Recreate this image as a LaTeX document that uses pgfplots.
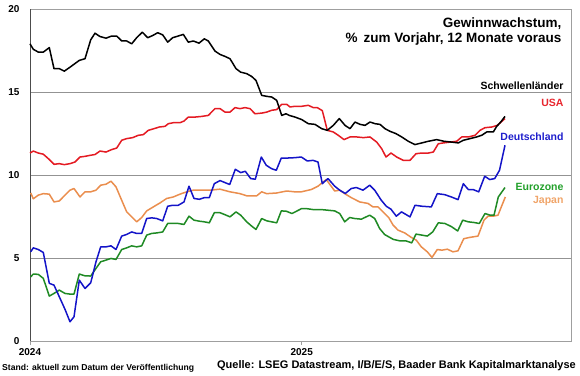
\documentclass[border=0pt]{standalone}
\usepackage{fontspec}
\setmainfont{Liberation Sans}
\usepackage{pgfplots}
\usepackage{pgfplotstable}
\pgfplotsset{compat=1.18}
\definecolor{cEM}{HTML}{000000}
\definecolor{cUS}{HTML}{E41B23}
\definecolor{cDE}{HTML}{1414C8}
\definecolor{cEZ}{HTML}{1F8A24}
\definecolor{cJP}{HTML}{EA8E4E}
\definecolor{lUS}{HTML}{E8262E}
\definecolor{lDE}{HTML}{1E1ECC}
\definecolor{lEZ}{HTML}{22A02A}
\definecolor{lJP}{HTML}{F0A468}

\pgfplotstableread{
x y
0 17.93
3.3 17.6
8.3 17.43
13.3 17.43
19.3 17.7
24 16.43
29.3 16.43
34.3 16.28
40 16.52
49.3 16.93
55 17.03
60.7 18.17
65 18.57
70 18.37
76 18.27
81.7 18.4
86.7 18.4
91.7 18.1
96.7 18.1
101.7 17.93
106.7 18.3
112.3 18.63
117.7 18.3
122.7 18.43
127.7 18.6
132.7 18.47
137.7 18.03
142.7 18.3
148.3 18.4
153.3 18.5
158.3 18.03
163.3 18.1
169 17.97
174.3 18.23
178.3 18.1
185 17.49
190 17.29
195 17.17
200 17.03
206 16.43
210.7 16.22
216.7 16.13
221.7 15.96
226 15.72
231.7 14.82
236.7 14.76
241.7 14.72
246.7 14.52
251.7 13.61
256 13.71
259.3 13.61
265 13.51
271.7 13.36
278.3 13.11
285 13.07
291.7 12.81
297.3 12.71
303.3 13.01
309.3 13.42
315 13.01
320 12.81
325 13.21
330 13.07
335 13.01
340 13.21
345 13.11
350 13.07
355 12.81
360 12.65
366 12.51
371.7 12.31
378.3 12.05
385 11.85
391.7 11.95
398.3 12.05
406.7 12.15
414 12.05
421.7 12.0
428.3 11.95
433.3 12.11
440 12.21
446.7 12.31
451.7 12.41
456.7 12.61
463.3 12.61
466.7 12.95
470.7 13.21
475 13.55
}\EM

\pgfplotstableread{
x y
0 11.34
3.3 11.46
8.3 11.34
13.3 11.27
19.3 10.95
24 10.66
29.3 10.7
34.3 10.64
40 10.7
45 10.8
50 11.1
55 11.14
60 11.2
65 11.25
70 11.46
76 11.4
81.7 11.55
86.7 11.64
91.7 12.11
96.7 12.21
102.7 12.27
108.3 12.41
113.3 12.45
118.3 12.71
124 12.81
129.3 12.91
135 12.95
138.3 13.11
143.3 13.17
150 13.17
154 13.27
158.3 13.51
165 13.51
171.7 13.55
178.3 13.61
185 14.02
190 14.02
195 13.81
200 13.81
205 14.08
210 14.02
215 14.08
220 14.02
225 13.71
231.7 13.75
236.7 13.81
241.7 13.92
246.7 13.96
251.7 14.28
256.7 14.28
260 14.12
265 14.16
271.7 14.16
278.3 14.22
283.3 14.08
287.3 14.08
292.3 13.9
297.3 12.71
303.3 12.61
308.3 12.41
314 12.15
320 12.31
326.7 12.31
333.3 12.27
340 12.31
346.7 12.0
351.7 11.6
356 11.1
361 11.34
366.7 11.1
373.3 10.9
380 10.9
386 11.3
391.7 11.34
398.3 11.34
403.3 11.4
408.3 11.9
413.3 11.95
420 12.0
426.7 12.05
431.7 12.31
438.3 12.31
445 12.41
450 12.71
455 12.87
461.7 12.91
467.3 13.01
475 13.42
}\US

\pgfplotstableread{
x y
0.7 5.38
3.3 5.62
8.3 5.52
13.3 5.34
19.3 3.48
24 3.37
29.3 2.67
35 1.91
40 1.16
44 1.46
49.3 3.67
55 3.17
60.7 3.51
66 4.78
70.7 5.68
76 5.68
81 5.74
86 5.52
91.7 6.33
96.7 6.43
101.7 6.58
106.7 6.49
111.7 6.49
116.7 7.39
121.7 7.43
126.7 7.39
132.7 7.25
137.7 8.13
142.7 8.19
148.3 8.19
154 8.39
159 9.34
164 8.6
169.3 8.55
174.3 8.65
179.3 8.65
184.3 9.49
190 9.68
199.7 9.44
205.3 10.36
210.7 10.16
215.3 10.24
220.7 9.8
225.3 9.76
231.3 11.1
236.3 10.6
241.5 10.4
246.3 10.3
251.3 11.04
258 11.04
264.7 11.06
271.3 11.1
277.3 10.86
283 10.9
288 10.8
292.3 9.49
294 9.59
298 9.8
304.7 9.34
309.7 9.1
315.3 8.9
321.3 9.2
326.3 9.26
333 9.1
339.7 9.4
344.7 9.1
351.3 8.49
356.3 8.13
361 7.95
366.3 7.53
371.5 7.79
380 7.49
385 8.19
392 8.13
401.3 8.09
407.3 8.89
414.7 8.83
421.3 8.69
428 8.53
433.3 9.49
438.3 9.14
443 9.14
448.7 9.0
454.7 9.94
459.7 9.74
464.7 9.8
469.5 10.3
475 11.81
}\DE

\pgfplotstableread{
x y
0.7 3.87
3.3 4.04
8.3 4.02
13.3 3.78
19.3 2.71
24 2.87
29.3 3.07
35 2.87
40 2.83
44 2.83
49.3 4.04
55 3.93
60.7 3.92
66 4.38
70.7 4.78
76 4.88
81 4.98
86 4.92
91.7 5.52
96.7 5.62
101.7 5.74
106.7 5.68
111.7 5.74
116.7 6.39
121.7 6.49
126.7 6.52
132.7 6.58
137.7 7.09
142.7 7.09
148.3 7.09
154 7.03
159 7.53
164 7.29
169.3 7.23
174.3 7.19
179.3 7.13
184.3 7.74
190 7.74
195 7.62
200 7.49
206 7.79
210.7 7.59
216.7 7.19
221.7 6.93
226 6.73
231.7 7.39
236.7 7.25
241.7 7.19
246.7 7.13
251.3 7.85
256.3 7.83
262 7.69
271.3 7.98
277.3 7.98
283 7.93
291.3 7.93
298 7.89
304.7 7.85
309.7 7.69
314.7 7.19
319.7 7.45
324.7 7.39
331.3 7.35
339.7 7.59
344.7 7.39
349.7 6.78
354.7 6.42
363.3 6.13
370 6.04
376 6.04
381.7 5.92
386 6.45
391.7 6.39
397.3 6.33
402.7 6.58
408.3 7.13
415 7.09
421.7 6.89
427.7 6.64
432.7 7.29
438.3 7.19
444 7.15
449.3 7.09
455 7.69
460 7.59
464 7.59
468.3 8.69
475 9.26
}\EZ

\pgfplotstableread{
x y
0.7 8.93
3.3 8.58
8.3 8.8
13.3 8.89
19.3 8.86
24 8.39
29.3 8.45
35 8.8
40 9.1
44 9.2
50 8.69
55 9.0
60.7 9.0
66 9.1
70.7 9.4
76 9.46
81 9.64
86 9.3
91.7 8.49
96.7 7.79
101.7 7.49
106.7 7.19
111.7 7.45
116.7 7.85
123.3 8.09
130 8.33
136.7 8.6
143.3 8.69
150 8.86
156.7 9.0
163.3 9.1
170 9.1
180 9.1
190 9.16
200 9.0
210 8.89
216.7 8.76
226.7 8.76
231.7 9.0
236.7 8.89
246.7 8.93
256.7 9.05
264.7 9.0
271.3 9.0
281.3 9.14
288 9.34
293 9.59
296.3 9.74
299.7 9.46
304.7 9.05
309.7 9.1
314.7 8.89
321.3 8.65
329.7 8.39
338 8.3
343 8.09
348 8.09
353 7.79
358.7 7.45
363 7.0
368 6.69
374.7 6.52
381.3 6.25
386.3 6.08
391.3 5.68
397.3 5.38
402 5.04
407.3 5.52
412 5.48
417.3 5.54
423 5.38
428 5.44
433.7 6.17
439.7 6.25
448 6.33
454 7.29
458 7.53
463 7.53
468 7.59
475.3 8.69
}\JP

\begin{document}
\begin{tikzpicture}
\begin{axis}[
  scale only axis,
  width=541pt, height=331.5pt,
  xmin=0, xmax=541, ymin=0, ymax=20,
  xtick={0,271.7}, xticklabels={2024,2025},
  ytick={0,5,10,15,20},
  ymajorgrids,
  grid style={gray!85, line width=0.6pt},
  axis line style={draw=gray!75, line width=0.8pt},
  tick align=outside, xtick pos=bottom, ytick pos=left,
  major tick length=4pt,
  xtick style={gray!75, line width=0.8pt},
  ytick style={draw=none},
  /pgf/number format/assume math mode=true,
  ticklabel style={font=\bfseries\fontsize{10}{12}\selectfont},
  yticklabel style={xshift=-3pt},
  xticklabel style={yshift=0pt},
  clip=false,
  every axis plot/.append style={line width=1.5pt, no markers, line join=round},
]
\draw[black!70, line width=0.8pt] (axis cs:0,0) -- (axis cs:0,20);
\addplot[cJP] table {\JP};
\addplot[cEZ] table {\EZ};
\addplot[cDE] table {\DE};
\addplot[cUS] table {\US};
\addplot[cEM] table {\EM};
\node[anchor=base east, font=\bfseries\fontsize{13.5}{15}\selectfont] at (axis cs:535,18.93) {Gewinnwachstum,};
\node[anchor=base east, font=\bfseries\fontsize{13.5}{15}\selectfont] at (axis cs:535,18.03) {\%\ \,zum Vorjahr, 12 Monate voraus};
\node[anchor=east, font=\bfseries\fontsize{10.5}{12}\selectfont, text=black] at (axis cs:537,15.42) {Schwellenländer};
\node[anchor=east, font=\bfseries\fontsize{10.5}{12}\selectfont, text=lUS] at (axis cs:537,14.34) {USA};
\node[anchor=east, font=\bfseries\fontsize{10.5}{12}\selectfont, text=lDE] at (axis cs:537,12.35) {Deutschland};
\node[anchor=east, font=\bfseries\fontsize{10.5}{12}\selectfont, text=lEZ] at (axis cs:537,9.28) {Eurozone};
\node[anchor=east, font=\bfseries\fontsize{10.5}{12}\selectfont, text=lJP] at (axis cs:537,8.43) {Japan};
\end{axis}
\node[anchor=west, inner sep=0pt, font=\bfseries\fontsize{8.6}{10}\selectfont] at (-28pt,-27.5pt) {Stand: aktuell zum Datum der Veröffentlichung};
\node[anchor=east, inner sep=0pt, font=\bfseries\fontsize{11}{13}\selectfont] at (546pt,-25pt) {Quelle: LSEG Datastream, I/B/E/S, Baader Bank Kapitalmarktanalyse};
\pgfresetboundingbox
\path (-30pt,-34pt) rectangle (550pt,341pt);
\end{tikzpicture}
\end{document}
